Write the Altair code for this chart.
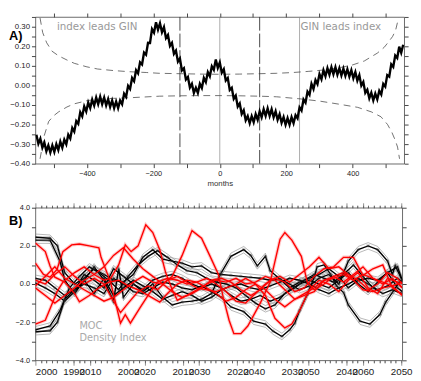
import altair as alt
import pandas as pd

# ---------------- Panel A : lag correlation (months) ----------------
peak_lags = list(range(-552, 553, 12))
peak_vals = [-0.252, -0.272, -0.292, -0.307, -0.307, -0.300, -0.287, -0.277, -0.252, -0.217,
             -0.182, -0.137, -0.107, -0.087, -0.072, -0.062, -0.057, -0.062, -0.070, -0.077,
             -0.082, -0.077, -0.042, -0.002, 0.038, 0.078, 0.118, 0.168, 0.218, 0.288,
             0.323, 0.318, 0.298, 0.258, 0.218, 0.178, 0.138, 0.088, 0.043, 0.008,
             -0.012, 0.008, 0.038, 0.068, 0.098, 0.133, 0.118, 0.083, 0.038, -0.012,
             -0.052, -0.092, -0.127, -0.157, -0.157, -0.147, -0.132, -0.122, -0.117, -0.122,
             -0.132, -0.147, -0.162, -0.167, -0.162, -0.152, -0.112, -0.072, -0.032, 0.008,
             0.028, 0.058, 0.078, 0.088, 0.093, 0.093, 0.088, 0.086, 0.083, 0.078,
             0.068, 0.053, 0.018, -0.022, -0.037, -0.042, -0.027, 0.008, 0.053, 0.108,
             0.153, 0.198, 0.208]
trough_lags = list(range(-546, 547, 12))
trough_vals = [-0.298, -0.318, -0.336, -0.343, -0.340, -0.330, -0.318, -0.301, -0.271, -0.236,
               -0.196, -0.158, -0.133, -0.116, -0.103, -0.096, -0.096, -0.102, -0.110, -0.116,
               -0.116, -0.096, -0.058, -0.018, 0.022, 0.062, 0.107, 0.157, 0.217, 0.270,
               0.285, 0.272, 0.242, 0.202, 0.162, 0.122, 0.077, 0.030, -0.011, -0.038,
               -0.038, -0.013, 0.017, 0.047, 0.080, 0.090, 0.065, 0.025, -0.023, -0.068,
               -0.108, -0.146, -0.178, -0.193, -0.188, -0.176, -0.163, -0.156, -0.156, -0.163,
               -0.176, -0.191, -0.201, -0.201, -0.193, -0.168, -0.128, -0.088, -0.048, -0.018,
               0.007, 0.032, 0.047, 0.055, 0.057, 0.055, 0.051, 0.049, 0.045, 0.037,
               0.025, -0.001, -0.038, -0.066, -0.076, -0.071, -0.046, -0.006, 0.045, 0.095,
               0.140, 0.167]

upper_lags = [-541, -533, -521, -505, -485, -460, -438, -400, -368, -320, -271, -220, -182, -120, -60, 0,
              60, 120, 171, 220, 268, 320, 356, 400, 435, 474, 495, 509, 520, 529, 538]
upper_vals = [0.345, 0.27, 0.218, 0.175, 0.151, 0.13, 0.113, 0.095, 0.084, 0.076, 0.070, 0.066, 0.062,
              0.060, 0.058, 0.057, 0.058, 0.060, 0.062, 0.066, 0.072, 0.080, 0.089, 0.105, 0.125,
              0.165, 0.195, 0.225, 0.25, 0.281, 0.345]
lower_lags = [-541, -535, -529, -515, -500, -485, -460, -438, -400, -368, -320, -271, -182, -120, -60, 0,
              60, 120, 171, 238, 300, 356, 415, 456, 485, 505, 518, 528, 535, 541]
lower_vals = [-0.375, -0.32, -0.26, -0.184, -0.155, -0.135, -0.11, -0.094, -0.078, -0.070, -0.066,
              -0.063, -0.055, -0.053, -0.052, -0.052, -0.053, -0.055, -0.058, -0.068, -0.08, -0.095,
              -0.112, -0.135, -0.16, -0.20, -0.24, -0.28, -0.315, -0.375]

dashed_rule_lags = [-120, 120]
solid_rule_lags = [0, 240]

a_x_ticks = [-500, -400, -300, -200, -100, 0, 100, 200, 300, 400, 500]
a_y_ticks = [-0.40, -0.35, -0.30, -0.25, -0.20, -0.15, -0.10, -0.05, 0.0,
             0.05, 0.10, 0.15, 0.20, 0.25, 0.30, 0.35]
a_domain_x = [-555, 555]
a_domain_y = [-0.40, 0.35]

# ---------------- Panel B : MOC and density index ----------------
K1 = [(0, 2.45), (4, 2.4), (6, 2.0), (8, 0.6), (10.7, 0.0), (13.3, 0.3), (16, 0.8), (18.7, 0.5),
      (21.3, 0.2), (24, 0.1), (26.7, 0.5), (29.3, 1.4), (32, 1.8), (34.7, 1.3), (37.3, 1.2), (40, 1.1),
      (42.7, 0.9), (45.3, 0.95), (48, 0.6), (50.7, 0.5), (53.3, 0.45), (56, 0.4), (58.7, 0.35),
      (61.3, 0.3), (64, 0.2), (66.7, 0.25), (69.3, 0.0), (72, -0.3), (74.7, -0.1), (77.3, 0.3),
      (80, 0.5), (82.7, 0.0), (85.3, 1.2), (88, 1.8), (90.7, 2.0), (93.3, 1.8), (96, 1.2),
      (97.3, 0.5), (98.1, 0.95), (100, 0.2)]
K2 = [(0, 2.3), (4, 2.3), (6.7, 1.2), (8, 0.2), (10.7, -0.5), (13.3, 0.2), (16, 0.9), (18.7, 0.2),
      (21.3, -0.9), (22.7, 0.8), (24, -0.7), (26.7, 0.0), (29.3, -0.4), (32, 0.0), (34.7, -0.7),
      (37.3, -1.1), (40, -0.95), (42.7, -0.9), (45.3, -0.8), (48, -0.5), (50.7, 0.6), (53.3, 1.45),
      (56.8, 1.8), (58.7, 1.5), (60.5, 0.95), (62.7, 1.45), (64, 0.7), (66.7, 0.25), (69.3, -0.2),
      (72, 0.1), (74.7, 0.3), (77.3, 0.5), (80, 0.8), (82.7, 0.4), (85.3, -0.2), (88, 0.2),
      (90.7, 0.3), (93.3, 0.2), (96, 0.6), (98.7, 0.9), (100, 0.2)]
K3 = [(0, -2.5), (4, -2.45), (6, -2.0), (8, -0.8), (10.7, -0.3), (13.3, 0.0), (16, -0.2), (18.7, -0.5),
      (21.3, 0.3), (24, 0.0), (26.7, -0.4), (29.3, -0.5), (32, -0.2), (34.7, 0.1), (37.3, 0.0),
      (40, -0.2), (42.7, -0.3), (45.3, -0.1), (48, -0.4), (50.7, -0.7), (53.3, -1.2), (56.8, -1.45),
      (59.5, -1.95), (62.7, -2.1), (64.8, -2.47), (67.2, -2.75), (69.3, -2.4), (70.7, -2.05),
      (72, -1.4), (74.1, -0.55), (76, 0.35), (76.8, 0.9), (78.7, 1.0), (80.5, 0.5), (82.1, -0.1),
      (84, -0.45), (85.3, -1.1), (88.5, -1.95), (91.2, -2.1), (93.9, -1.6), (95.5, -0.95),
      (97.3, -0.45), (99.2, 0.1), (100, 0.2)]
K4 = [(0, -2.4), (4, -2.2), (6.7, -1.4), (9.3, -0.2), (12, 0.4), (14.7, 0.9), (17.3, 0.6), (20, 0.2),
      (22.7, -0.3), (25.3, 0.4), (28, 1.0), (30.7, 1.45), (33.3, 1.75), (36, 1.4), (38.7, 1.0),
      (41.3, 0.7), (44, 0.6), (46.7, 0.3), (49.3, 0.1), (52, 0.0), (54.7, -0.2), (57.3, -0.6),
      (60, -1.0), (62.7, -1.3), (65.3, -1.1), (68, -0.5), (70.7, -0.2), (73.3, 0.2), (76, 0.5),
      (78.7, 0.3), (81.3, 0.1), (84, 0.5), (86.7, 1.0), (89.3, 0.4), (92, -0.2), (94.7, -0.5),
      (97.3, -0.3), (100, -0.5)]
K5 = [(0, 0.3), (2.7, 0.2), (5.3, -0.2), (8, -0.6), (10.7, -0.3), (13.3, 0.5), (16, 0.2), (18.7, -0.2),
      (21.3, 0.8), (24, 0.4), (26.7, 0.0), (29.3, -0.3), (32, 0.2), (34.7, 0.4), (37.3, 0.5), (40, 0.3),
      (42.7, 0.0), (45.3, -0.2), (48, 0.0), (50.7, -0.2), (53.3, -0.6), (56, -0.9), (58.7, -0.8),
      (61.3, -0.6), (64, -0.9), (66.7, -0.7), (69.3, -0.3), (72, 0.0), (74.7, 0.2), (77.3, 0.0),
      (80, -0.2), (82.7, 0.2), (85.3, 0.6), (88, 0.0), (90.7, -0.4), (93.3, 0.1), (96, 0.6),
      (98.7, -0.2), (100, -0.4)]
K6 = [(0, 0.05), (2.7, -0.2), (5.3, -0.5), (8, -0.9), (10.7, -0.4), (13.3, 0.2), (16, -0.5), (18.7, 0.3),
      (21.3, -0.6), (24, -0.2), (26.7, 0.2), (29.3, -0.1), (32, -0.4), (34.7, -0.8), (37.3, -0.6),
      (40, -0.4), (42.7, -0.6), (45.3, -0.9), (48, -0.7), (50.7, -0.3), (53.3, -0.1), (56, 0.0),
      (58.7, -0.2), (61.3, -0.3), (64, -0.1), (66.7, 0.1), (69.3, 0.3), (72, 0.2), (74.7, 0.0),
      (77.3, -0.3), (80, -0.5), (82.7, -0.2), (85.3, 0.0), (88, 0.3), (90.7, 0.0), (93.3, -0.3),
      (96, -0.1), (98.7, 0.3), (100, 0.1)]

R1 = [(0, 2.15), (2.7, 1.7), (4, 0.95), (5.3, 0.36), (8, 0.1), (10.7, -0.5), (12, -0.93), (14.7, -0.6),
      (17.3, -0.2), (20, 0.1), (22.7, 0.2), (25.3, -0.1), (28, -0.3), (30.7, -0.6), (33.9, -0.95),
      (36, -0.5), (38.7, 0.0), (41.3, 0.2), (44, 0.1), (46.7, -0.2), (49.3, -0.5), (52, -0.9),
      (54.7, -0.7), (57.3, -0.3), (60, 0.0), (62.7, -0.3), (65.3, -0.8), (68, -1.2), (70.7, -0.8),
      (73.3, -0.5), (76, -0.2), (78.7, 0.2), (81.3, 0.3), (84, 0.5), (86.7, 0.2), (89.3, -0.3),
      (92, -0.4), (94.7, -0.2), (97.3, -0.1), (100, -0.6)]
R2 = [(0, 1.1), (2.2, 0.5), (4, 0.36), (5.9, 0.77), (7.5, 1.7), (9.9, 2.05), (12, 2.1), (14.7, 2.0),
      (17.3, 1.9), (17.9, 1.4), (20.5, 0.1), (23.2, -2.05), (24.5, -1.6), (25.9, -2.05), (28.5, -1.25),
      (30.7, -0.6), (33.3, 0.1), (36, 0.3), (38.7, 0.2), (41.3, 0.0), (44, 0.1), (46.7, 0.3),
      (49.3, 0.0), (52, -0.4), (54.7, -0.9), (57.3, -1.0), (60, -0.5), (62.7, 0.0), (65.3, 0.3),
      (68, 0.1), (70.7, -0.4), (73.3, -0.2), (76, 0.4), (78.7, 0.8), (81.3, 0.9), (84, 1.4),
      (86.7, 1.4), (89.3, 0.45), (92, 0.8), (94.7, 1.0), (97.3, -0.2), (100, -0.55)]
R3 = [(0, -2.1), (2.7, -1.9), (4, -1.3), (5.9, -0.4), (7.5, 0.1), (10.7, 0.6), (13.3, 0.9), (16, 0.5),
      (18.7, 0.2), (20.5, 0.3), (22.7, 1.0), (24.5, 2.05), (26.1, 1.7), (28, 2.0), (30.1, 3.1),
      (32, 2.7), (33.9, 1.8), (35.5, 0.6), (37.3, -0.3), (38.7, -0.85), (41.3, -0.6), (44, -0.3),
      (46.7, 0.0), (49.3, 0.2), (52, 0.1), (54.7, 0.3), (57.3, 0.0), (60, 0.1), (62.7, 0.4),
      (65.3, 0.2), (68, -0.3), (70.7, -0.8), (73.3, -0.6), (76, -0.4), (78.7, 0.2), (81.3, 0.4),
      (84, 0.1), (86.7, 0.5), (89.3, 0.9), (92, 0.3), (94.7, 0.0), (97.3, 0.3), (100, -0.2)]
R4 = [(0, -0.1), (2.7, 0.4), (5.3, 0.9), (8, 0.3), (10.7, 0.0), (13.3, -0.3), (16, -0.6), (18.7, -0.9),
      (21.3, -0.7), (24, -0.3), (26.7, 0.1), (29.3, 0.4), (32, 0.1), (34.7, 0.0), (37.3, 0.4),
      (40, 1.5), (42.7, 2.8), (45.3, 2.4), (47.5, 1.5), (49.9, 0.5), (51.2, -0.7), (52.8, -1.9),
      (54.1, -2.6), (56, -2.6), (57.9, -2.2), (61.3, -1.0), (64, 0.1), (66.7, 2.35), (68, 2.7),
      (69.9, 2.3), (72.5, 1.45), (74.1, 0.1), (76, -0.3), (78.7, 0.0), (81.3, 0.4), (84, 0.6),
      (86.7, 0.2), (89.3, 0.5), (92, 0.3), (94.7, 0.1), (97.3, -0.1), (100, 0.1)]
R5 = [(0, 0.2), (2.7, 0.0), (5.3, 0.5), (8, 0.9), (10.7, 0.4), (13.3, 0.0), (16, 0.3), (18.7, 0.0),
      (21.3, -0.9), (23.2, -1.5), (25.3, -1.0), (28, -0.4), (30.7, -0.1), (33.3, -0.3), (36, 0.2),
      (38.7, 0.4), (41.3, 0.1), (44, -0.2), (46.7, -0.3), (49.3, -0.4), (52, -0.2), (54.7, 0.0),
      (57.3, 0.3), (60, 0.0), (62.7, -0.6), (65.3, -1.8), (68, -2.3), (69.9, -2.1), (72, -1.4),
      (74.7, -0.3), (77.3, 0.2), (80, 0.0), (82.7, -0.4), (85.3, 0.2), (88, 0.6), (90.7, -0.2),
      (93.3, -0.5), (96, 0.3), (98.7, 0.1), (100, -0.2)]
R6 = [(0, -0.2), (2.7, -0.6), (5.3, -1.0), (8, -0.6), (10.7, -0.2), (13.3, 0.2), (16, 0.5), (18.7, 0.9),
      (21.3, 1.5), (24, 1.9), (26.7, 1.3), (29.3, 0.8), (32, 0.4), (34.7, 0.0), (37.3, -0.4),
      (40, -0.7), (42.7, -0.5), (45.3, -0.2), (48, 0.2), (50.7, 0.3), (53.3, 0.1), (56, -0.3),
      (58.7, -0.6), (61.3, -0.3), (64, 0.2), (66.7, 0.4), (69.3, 0.1), (72, 0.5), (74.7, 0.9),
      (77.3, 1.4), (80, 0.8), (82.7, 0.9), (85.3, 0.5), (88, 0.2), (90.7, -0.3), (93.3, 0.0),
      (96, 0.6), (98.7, 0.3), (100, 0.0)]

black_series = {"K1": K1, "K2": K2, "K3": K3, "K4": K4, "K5": K5, "K6": K6}
red_series = {"R1": R1, "R2": R2, "R3": R3, "R4": R4, "R5": R5, "R6": R6}

b_y_ticks = [-4, -3, -2, -1, 0, 1, 2, 3, 4]
b_domain_t = [0, 100]
b_domain_y = [-4, 4]
yearsA_domain = [1983.0, 2050.2]
yearsB_domain = [2000.0, 2067.2]
yearsA_ticks = list(range(1984, 2051))
yearsB_ticks = list(range(2000, 2068))

FONT = "Liberation Sans"
ASTERISK = "M-1,0L1,0M0,-1L0,1M-0.7,-0.7L0.7,0.7M-0.7,0.7L0.7,-0.7"


def sc(domain):
    return alt.Scale(domain=domain, nice=False, zero=False)


def label_layer(text, x, y, **kw):
    return alt.Chart(pd.DataFrame({"label": [text]})).mark_text(**kw).encode(
        text="label:N", x=alt.value(x), y=alt.value(y))


# ---------------- build panel A ----------------
main_df = pd.DataFrame({"lag": peak_lags + trough_lags, "val": peak_vals + trough_vals}).sort_values("lag")
curves_df = pd.concat([
    pd.DataFrame({"lag": upper_lags, "val": upper_vals, "side": "upper"}),
    pd.DataFrame({"lag": lower_lags, "val": lower_vals, "side": "lower"}),
])

xA_axis = alt.Axis(title="months", values=a_x_ticks, format="d",
                   labelExpr="datum.value % 200 == 0 ? datum.label : ''",
                   labelFontSize=7.5, tickSize=4, labelPadding=2, labelOverlap=False,
                   labelFlush=False, titleFontSize=8, titleFontWeight="normal",
                   titleColor="#333", titlePadding=3)
yA_axis = alt.Axis(title=None, values=a_y_ticks, format=".2f",
                   labelExpr="abs(round(datum.value*100)) % 10 == 0 ? datum.label : ''",
                   labelFontSize=8, tickSize=4, labelPadding=2, labelOverlap=False, labelFlush=False)

xA = alt.X("lag:Q", scale=sc(a_domain_x), axis=None)
yA = alt.Y("val:Q", scale=sc(a_domain_y), axis=None)

rules_solid = alt.Chart(pd.DataFrame({"lag": solid_rule_lags})).mark_rule(
    color="#888", strokeWidth=0.7).encode(x=xA)
rules_dashed = alt.Chart(pd.DataFrame({"lag": dashed_rule_lags})).mark_rule(
    color="#333", strokeWidth=0.9, strokeDash=[14, 3]).encode(x=xA)
curves = alt.Chart(curves_df).mark_line(color="#333", strokeWidth=0.7, strokeDash=[7, 5], clip=True).encode(
    x=xA, y=yA, detail="side:N", order="lag:Q")
main_line = alt.Chart(main_df).mark_line(color="black", strokeWidth=2.4, clip=True).encode(
    x=alt.X("lag:Q", scale=sc(a_domain_x), axis=xA_axis),
    y=alt.Y("val:Q", scale=sc(a_domain_y), axis=yA_axis), order="lag:Q")

axA_top = alt.Chart(pd.DataFrame({"lag": a_domain_x, "val": a_domain_y})).mark_point(opacity=0).encode(
    x=alt.X("lag:Q", scale=sc(a_domain_x),
            axis=alt.Axis(orient="top", values=a_x_ticks, labels=False, title=None, tickSize=4)),
    y=alt.Y("val:Q", scale=sc(a_domain_y),
            axis=alt.Axis(orient="right", values=a_y_ticks, labels=False, title=None, tickSize=4)))

textA1 = label_layer("index leads GIN", 22, 10, align="left", baseline="middle", fontSize=10.5,
                     font="DejaVu Sans", color="#999")
textA2 = label_layer("GIN leads index", 271, 10, align="left", baseline="middle", fontSize=10.5,
                     font="DejaVu Sans", color="#999")
labelA = label_layer("A)", -27, 20, align="left", baseline="middle", fontSize=13, fontWeight="bold",
                     font=FONT, color="black")

panelA = alt.layer(rules_solid, rules_dashed, curves, main_line, axA_top, textA1, textA2, labelA).resolve_scale(
    x="independent", y="independent").properties(width=377, height=150)

# ---------------- build panel B ----------------
rows = []
for name, pts in black_series.items():
    for t, v in pts:
        rows.append({"series": name, "kind": "black", "t": t, "v": v})
for name, pts in red_series.items():
    for t, v in pts:
        rows.append({"series": name, "kind": "red", "t": t, "v": v})
lines_df = pd.DataFrame(rows)

xB = alt.X("t:Q", scale=sc(b_domain_t), axis=None)
yB = alt.Y("v:Q", scale=sc(b_domain_y), axis=None)
yB_axis = alt.Axis(title=None, values=b_y_ticks, format=".1f",
                   labelExpr="datum.value % 2 == 0 ? datum.label : ''",
                   labelFontSize=7.5, tickSize=4, labelPadding=2, labelOverlap=False, labelFlush=False)

base = alt.Chart(lines_df)
red_halo = base.transform_filter("datum.kind == 'red'").mark_line(
    color="#ff9c9c", strokeWidth=3.5, opacity=0.55, clip=True).encode(
    x=xB, y=alt.Y("v:Q", scale=sc(b_domain_y), axis=yB_axis), detail="series:N", order="t:Q")
env_hi = base.transform_filter("datum.kind == 'black'").transform_calculate(w="datum.v + 0.17").mark_line(
    color="#888", strokeWidth=0.6, clip=True).encode(
    x=xB, y=alt.Y("w:Q", scale=sc(b_domain_y), axis=None), detail="series:N", order="t:Q")
env_lo = base.transform_filter("datum.kind == 'black'").transform_calculate(w="datum.v - 0.17").mark_line(
    color="#888", strokeWidth=0.6, clip=True).encode(
    x=xB, y=alt.Y("w:Q", scale=sc(b_domain_y), axis=None), detail="series:N", order="t:Q")
black_lines = base.transform_filter("datum.kind == 'black'").mark_line(
    color="black", strokeWidth=1.4, clip=True).encode(x=xB, y=yB, detail="series:N", order="t:Q")
black_marks = base.transform_filter("datum.kind == 'black'").mark_point(
    shape=ASTERISK, filled=False, size=14, strokeWidth=0.5, color="#333", clip=True).encode(x=xB, y=yB)
red_lines = base.transform_filter("datum.kind == 'red'").mark_line(
    color="#ff0000", strokeWidth=1.4, clip=True).encode(x=xB, y=yB, detail="series:N", order="t:Q")

major_size = {"condition": {"test": "datum.value % 10 === 0", "value": 5}, "value": 2.5}
first_shift = {"condition": {"test": "datum.value == 2000", "value": 11}, "value": 0}


def year_axis_layer(domain, ticks, orient, labels, offset, right_axis=None):
    ax = alt.Axis(orient=orient, values=ticks, labels=labels, title=None, tickSize=major_size,
                  format="d", labelExpr="datum.value % 10 === 0 ? datum.label : ''",
                  labelFontSize=10, labelPadding=2, labelOverlap=False, labelFlush=False,
                  labelAlign="center", labelOffset=offset, tickWidth=0.6)
    return alt.Chart(pd.DataFrame({"yr": domain, "v": b_domain_y})).mark_point(opacity=0).encode(
        x=alt.X("yr:Q", scale=sc(domain), axis=ax),
        y=alt.Y("v:Q", scale=sc(b_domain_y), axis=right_axis))


axA_bottom = year_axis_layer(yearsA_domain, yearsA_ticks, "bottom", True, 0)
axB_bottom = year_axis_layer(yearsB_domain, yearsB_ticks, "bottom", True, first_shift)
axA_top = year_axis_layer(yearsA_domain, yearsA_ticks, "top", False, 0)
axB_top = year_axis_layer(yearsB_domain, yearsB_ticks, "top", False, 0,
                          right_axis=alt.Axis(orient="right", values=b_y_ticks, labels=False,
                                              title=None, tickSize=4))

textB1 = label_layer("MOC", 45, 121, align="left", baseline="middle", fontSize=10,
                     font="DejaVu Sans", color="#aaa")
textB2 = label_layer("Density Index", 45, 133, align="left", baseline="middle", fontSize=10,
                     font="DejaVu Sans", color="#aaa")
labelB = label_layer("B)", -27, 14, align="left", baseline="middle", fontSize=13, fontWeight="bold",
                     font=FONT, color="black")

panelB = alt.layer(red_halo, env_hi, env_lo, black_lines, black_marks, red_lines,
                   axA_bottom, axB_bottom, axA_top, axB_top, textB1, textB2, labelB).resolve_scale(
    x="independent", y="independent").properties(width=375, height=156)

chart = alt.vconcat(panelA, panelB, spacing=45, bounds="flush", padding=0).configure_view(
    stroke="#444", strokeWidth=0.8).configure_axis(
    domain=False, grid=False, labelFont=FONT, titleFont=FONT, tickColor="#444", labelColor="#222")

chart.save("out.html", embed_options={"renderer": "svg", "actions": False})
